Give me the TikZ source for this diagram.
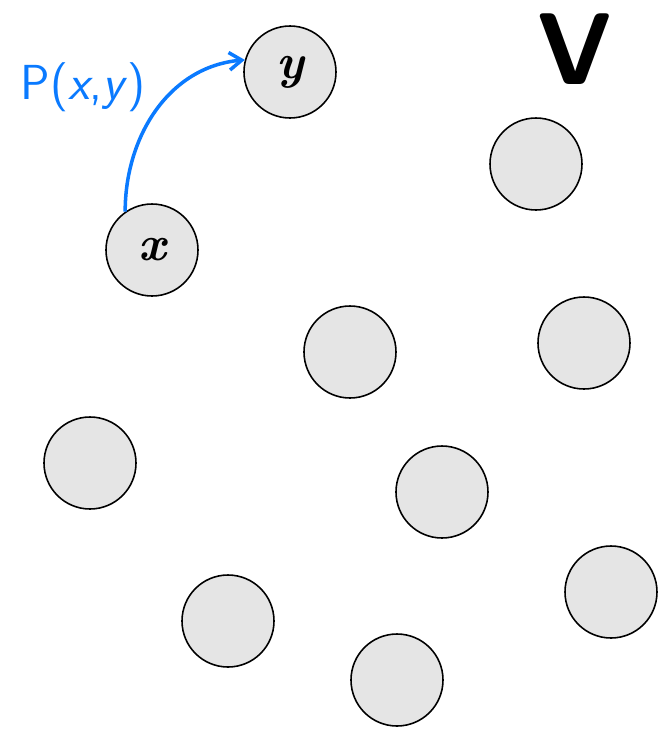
\documentclass[tikz,border=0pt]{standalone}
\usepackage{tikz}
\usetikzlibrary{arrows.meta,positioning}
\usepackage{xcolor}
\definecolor{trans}{RGB}{10,122,255}

\begin{document}
\begin{tikzpicture}[
  vertex/.style={circle, draw, fill=black!10, line width=0.9pt,
    minimum size=1.84cm, inner sep=0pt, font=\fontsize{28}{28}\selectfont\bfseries\itshape},
  trarrow/.style={-{Straight Barb[length=2.5mm,width=3.5mm]}, line width=2pt, color=trans},
  >=Stealth
]
\useasboundingbox (0,0) rectangle (13.18,-14.6);

% Vertices
\node[vertex] (y) at (5.80,-1.44) {y};
\node[vertex] (x) at (3.04,-5.00) {x};
\node[vertex] (v1) at (10.72,-3.28) {};
\node[vertex] (v2) at (7.00,-7.04) {};
\node[vertex] (v3) at (11.68,-6.86) {};
\node[vertex] (v4) at (1.80,-9.26) {};
\node[vertex] (v5) at (8.84,-9.84) {};
\node[vertex] (v6) at (12.22,-11.84) {};
\node[vertex] (v7) at (4.56,-12.42) {};
\node[vertex] (v8) at (7.94,-13.60) {};

% Set label
\node[font=\fontsize{58}{58}\selectfont\sffamily\bfseries, inner sep=0pt] (setV) at (11.50,-0.98) {V};

% Transition
\draw[trarrow] (x.125) to[out=90, in=185] (y.165);
\node[font=\fontsize{28}{28}\selectfont\sffamily, text=trans] (plabel) at (1.66,-1.74)
  {P(\textit{x},\textit{y})};

\end{tikzpicture}
\end{document}
